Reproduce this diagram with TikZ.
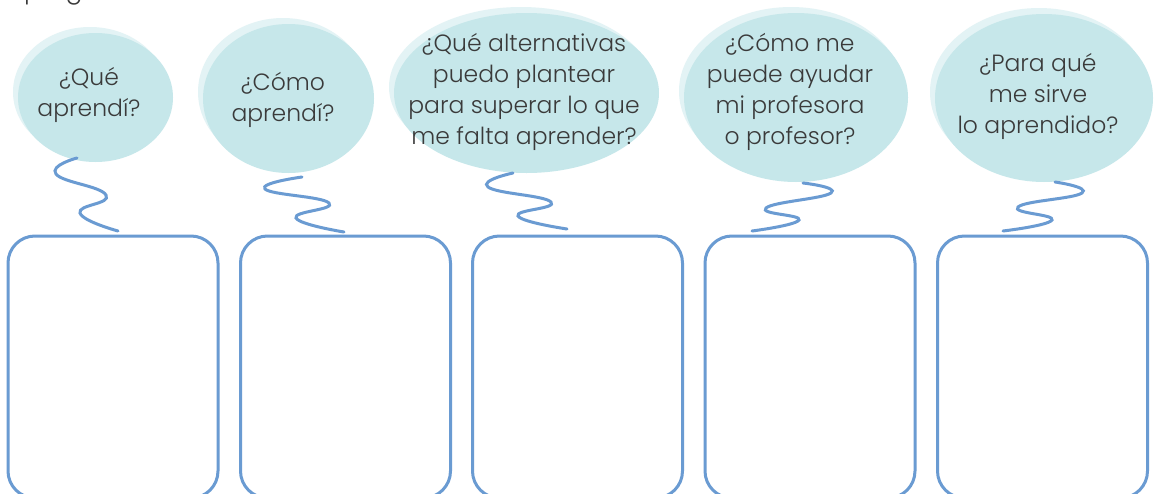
\documentclass[tikz,border=0pt]{standalone}
\usepackage{fontspec}
\setmainfont{Poppins}[UprightFont={* Light}]
\definecolor{txt}{HTML}{3A3A3A}
\definecolor{bub}{HTML}{C6E7EA}
\definecolor{halo}{HTML}{E3F3F5}
\definecolor{ln}{HTML}{6A9BD2}
\tikzset{
  qtext/.style={text=txt, align=center, font=\fontsize{23.5}{31}\selectfont, inner sep=0pt},
  boxx/.style={draw=ln, line width=3pt, rounded corners=27pt, minimum width=210pt, minimum height=262pt, inner sep=0pt},
  sq/.style={draw=ln, line width=3pt, line cap=round},
}
\begin{document}
\begin{tikzpicture}[x=1pt,y=-1pt]
\useasboundingbox (0,0) rectangle (1160,493);
\clip (0,0) rectangle (1160,493);
\fill[white] (0,0) rectangle (1160,493);
% partial heading
\node[anchor=base west, text=txt, font=\fontsize{25}{30}\selectfont, inner sep=0pt] (head) at (24,-2) {preguntas.};
% bubbles: halo + main
\fill[halo] (90,92) ellipse [x radius=77, y radius=65];
\fill[bub] (95.5,97.5) ellipse [x radius=77.5, y radius=64.5];
\fill[halo] (283,92) ellipse [x radius=85, y radius=74];
\fill[bub] (288.5,98.5) ellipse [x radius=85.5, y radius=74.5];
\fill[halo] (521,87) ellipse [x radius=132, y radius=80];
\fill[bub] (526.5,93) ellipse [x radius=132.5, y radius=80];
\fill[halo] (791,91) ellipse [x radius=112, y radius=84];
\fill[bub] (796,97.5) ellipse [x radius=112, y radius=84.5];
\fill[halo] (1039,92) ellipse [x radius=109, y radius=84];
\fill[bub] (1044,98) ellipse [x radius=109, y radius=84];
% texts
\node[qtext] (q1) at (89,95) {¿Qué\\aprendí?};
\node[qtext] (q2) at (283,100) {¿Cómo\\aprendí?};
\node[qtext] (q3) at (524,92) {¿Qué alternativas\\puedo plantear\\para superar lo que\\me falta aprender?};
\node[qtext] (q4) at (790,92) {¿Cómo me\\puede ayudar\\mi profesora\\o profesor?};
\node[qtext] (q5) at (1038,96) {¿Para qué\\me sirve\\lo aprendido?};
% boxes
\node[boxx] (b1) at (113,367) {};
\node[boxx] (b2) at (345.5,367) {};
\node[boxx] (b3) at (577.5,367) {};
\node[boxx] (b4) at (810,367) {};
\node[boxx] (b5) at (1042.5,367) {};
% squiggle ends
\coordinate (s1) at (77,158); \coordinate (e1) at (118,231);
\coordinate (s2) at (302,177); \coordinate (e2) at (344,232);
\coordinate (s3) at (513,173); \coordinate (e3) at (567,229);
\coordinate (s4) at (803,183); \coordinate (e4) at (752,231);
\coordinate (s5) at (1055,182); \coordinate (e5) at (1003,231);
\draw[sq] plot[smooth, tension=0.85] coordinates {(s1) (56,174) (106,195) (80,213) (e1)};
\draw[sq] plot[smooth, tension=0.85] coordinates {(s2) (265,189) (329,203) (296,218) (e2)};
\draw[sq] plot[smooth, tension=0.85] coordinates {(s3) (488,187) (551,202) (518,216) (e3)};
\draw[sq] plot[smooth, tension=0.85] coordinates {(s4) (831,193) (766,208) (799,220) (e4)};
\draw[sq] plot[smooth, tension=0.85] coordinates {(s5) (1082,193) (1018,207) (1052,220) (e5)};
\end{tikzpicture}
\end{document}
